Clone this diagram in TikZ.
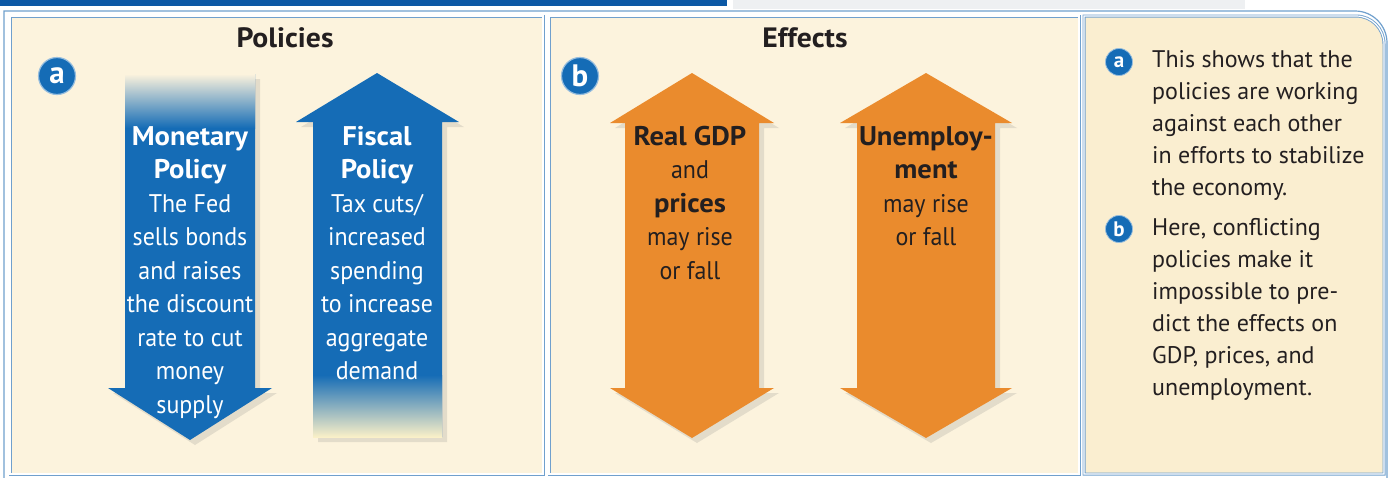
\documentclass[tikz,border=0pt]{standalone}
\usepackage{fontspec}
\setmainfont{PT Sans}
\newfontfamily\condfont[FakeStretch=0.94]{PT Sans}
\newfontfamily\wideb[FakeStretch=1.06]{PT Sans}
\usetikzlibrary{shadows}
\definecolor{cream}{RGB}{252,243,221}
\definecolor{creamB}{RGB}{250,238,208}
\definecolor{fadeY}{RGB}{250,240,200}
\definecolor{blueA}{RGB}{21,108,182}
\definecolor{orangeA}{RGB}{234,139,45}
\definecolor{frame}{RGB}{112,160,205}
\definecolor{band}{RGB}{12,88,165}
\definecolor{bandlight}{RGB}{238,240,242}
\definecolor{ink}{RGB}{35,31,32}
\newcommand{\hd}[1]{{\wideb\bfseries\fontsize{27}{33.5}\selectfont #1}}
\begin{document}
\begin{tikzpicture}[x=1pt,y=-1pt,
  panelborder/.style={draw=frame, double=white, double distance=1.2pt, line width=0.9pt},
  arrowshadow/.style={drop shadow={opacity=0.2, shadow xshift=5pt, shadow yshift=-5pt}},
  wtext/.style={text=white, align=center, inner sep=0pt, anchor=north, font=\condfont\fontsize{25.5}{33.5}\selectfont},
  btext/.style={text=ink, align=center, inner sep=0pt, anchor=north, font=\condfont\fontsize{25.5}{33.5}\selectfont},
  title/.style={text=ink, font=\wideb\fontsize{28}{30}\selectfont\bfseries, inner sep=0pt},
  bigdot/.style={circle, fill=blueA, draw=blueA!45!white, line width=1.2pt, minimum size=37pt, inner sep=0pt, text=white, font=\fontsize{31}{31}\selectfont\bfseries},
  smalldot/.style={circle, fill=blueA, draw=blueA!45!white, line width=0.8pt, minimum size=27pt, inner sep=0pt, text=white, font=\fontsize{21}{21}\selectfont\bfseries},
  note/.style={text=ink, align=left, inner sep=0pt, anchor=north west, font=\fontsize{24}{32}\selectfont}
]
\useasboundingbox (0,0) rectangle (1390,477);
\clip (0,0) rectangle (1390,477);
\fill[white] (0,0) rectangle (1390,477);
% top bands
\fill[band] (0,0) rectangle (727,6);
\fill[bandlight] (733,0) rectangle (1245,9);
% outer frame
\draw[frame, line width=1.2pt] (4,490) -- (4,11) -- (1355,11) arc[start angle=90, end angle=0, x radius=32, y radius=-32] -- (1387,490);
% panels
\fill[cream] (10,16) rectangle (543,474);
\fill[cream] (549,16) rectangle (1079,474);
\fill[creamB] (1084,16) -- (1356,16) arc[start angle=90, end angle=0, x radius=28, y radius=-28] -- (1384,474) -- (1084,474) -- cycle;
\draw[panelborder] (10,16) rectangle (543,474);
\draw[panelborder] (549,16) rectangle (1079,474);
\draw[panelborder] (1084,16) -- (1356,16) arc[start angle=90, end angle=0, x radius=28, y radius=-28] -- (1384,474) -- (1084,474) -- cycle;

% titles
\node[title] (tpol) at (285,38) {Policies};
\node[title] (teff) at (805,38) {Effects};
\node[bigdot] (da) at (57,76) {a};
\node[bigdot] (db) at (580,76) {b};

% monetary arrow (down)
\fill[blueA, arrowshadow] (125,74) -- (255,74) -- (255,388) -- (272,388) -- (190,440) -- (108,388) -- (125,388) -- cycle;
\shade[top color=cream, bottom color=blueA] (125,74) rectangle (255,128);
% fiscal arrow (up)
\fill[blueA, arrowshadow] (377,73) -- (459,122) -- (442,122) -- (442,437) -- (313,437) -- (313,122) -- (296,122) -- cycle;
\shade[top color=blueA, bottom color=fadeY] (313,375) rectangle (442,437);

\node[wtext] (mon) at (190,126) {\hd{Monetary}\\\hd{Policy}\\The Fed\\sells bonds\\and raises\\the discount\\rate to cut\\money\\supply};
\node[wtext] (fis) at (377,126) {\hd{Fiscal}\\\hd{Policy}\\Tax cuts/\\increased\\spending\\to increase\\aggregate\\demand};

% effects arrows (double)
\fill[orangeA, arrowshadow] (692,73) -- (774,123) -- (759,123) -- (759,388) -- (774,388) -- (692,438) -- (610,388) -- (625,388) -- (625,123) -- (610,123) -- cycle;
\fill[orangeA, arrowshadow] (926,73) -- (1012,123) -- (995,123) -- (995,388) -- (1012,388) -- (926,438) -- (840,388) -- (857,388) -- (857,123) -- (840,123) -- cycle;

\node[btext] (gdp) at (690,126) {\hd{Real GDP}\\and\\\hd{prices}\\may rise\\or fall};
\node[btext] (une) at (926,126) {\hd{Unemploy-}\\\hd{ment}\\may rise\\or fall};

% notes
\node[smalldot] (na) at (1119,62) {a};
\node[note] (ta) at (1152,50) {This shows that the\\policies are working\\against each other\\in efforts to stabilize\\the economy.};
\node[smalldot] (nb) at (1119,229) {b};
\node[note] (tb) at (1152,218) {Here, conflicting\\policies make it\\impossible to pre-\\dict the effects on\\GDP, prices, and\\unemployment.};
\end{tikzpicture}
\end{document}
